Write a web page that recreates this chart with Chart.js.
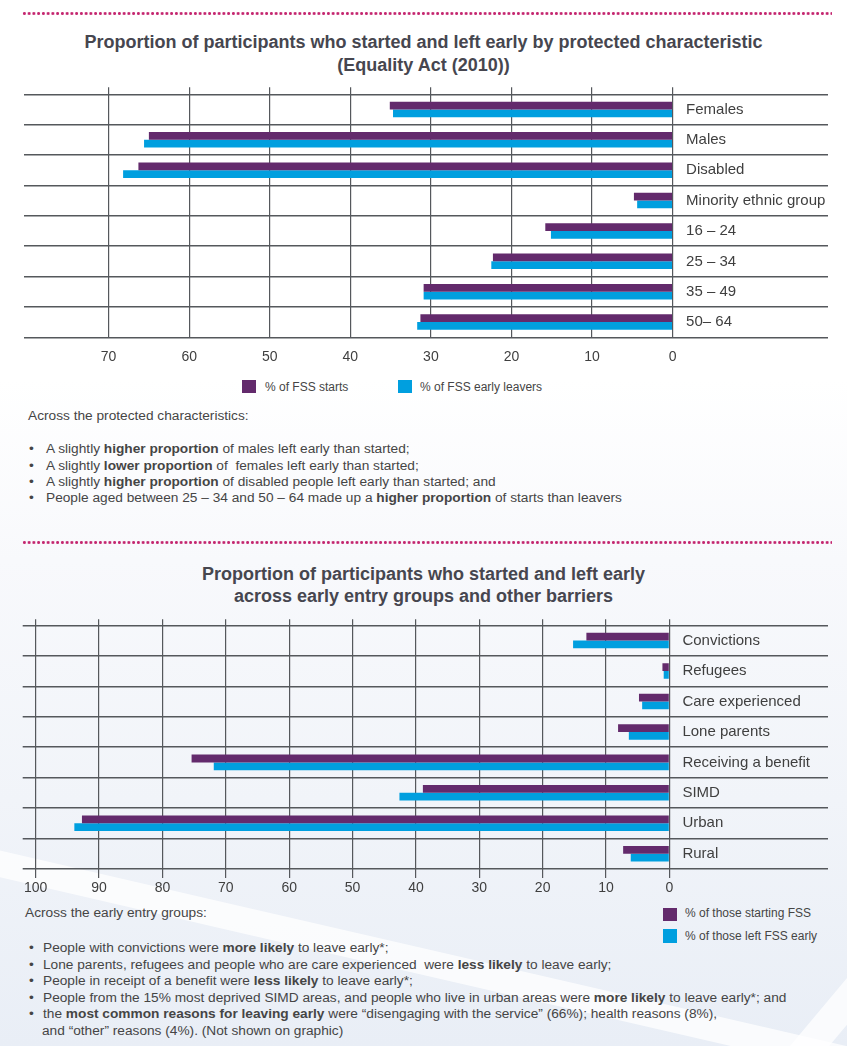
<!DOCTYPE html>
<html>
<head>
<meta charset="utf-8">
<script src="https://cdn.jsdelivr.net/npm/chart.js@4.4.1/dist/chart.umd.min.js"></script>
<style>
  html, body { margin: 0; padding: 0; }
  body {
    width: 847px; height: 1046px; position: relative; overflow: hidden;
    font-family: "Liberation Sans", Arial, sans-serif; color: #454545;
    background: linear-gradient(to bottom, #ffffff 0px, #ffffff 380px, #f8f9fc 560px, #f1f4f9 800px, #e9eef6 1046px);
  }
  .band { position: absolute; transform-origin: 0 0; background: rgba(255,255,255,0.75); }
  .dots { position: absolute; left: 22px; width: 810px; height: 5px;
    background-image: radial-gradient(circle at center, #c4266f 0, #c4266f 1.2px, transparent 1.7px);
    background-size: 4.75px 5px; background-repeat: repeat-x; }
  .title { position: absolute; left: 0; width: 847px; text-align: center; font-weight: bold;
    font-size: 18px; line-height: 22px; color: #46464f; }
  .chartbox { position: absolute; left: 0; width: 847px; }
  .txt { position: absolute; font-size: 13.7px; line-height: 16px; white-space: nowrap; color: #454545; }
  .leg { position: absolute; font-size: 12px; line-height: 14px; white-space: nowrap; color: #454545; }
  .sw { position: absolute; }
</style>
</head>
<body>
<div class="band" style="left:-20px; top:846px; width:1000px; height:26px; transform: rotate(13deg);"></div>
<div class="band" style="left:790px; top:1046px; width:200px; height:30px; transform: rotate(-50deg);"></div>

<div class="dots" style="top:11px;"></div>
<div class="title" style="top:31px;">Proportion of participants who started and left early by protected characteristic</div>
<div class="title" style="top:54px;">(Equality Act (2010))</div>
<div class="chartbox" style="top:80px; height:300px;"><canvas id="c1"></canvas></div>

<div class="sw" style="left:242px; top:380px; width:14px; height:13px; background:#632a6c;"></div>
<div class="leg" style="left:265px; top:380px;">% of FSS starts</div>
<div class="sw" style="left:398px; top:380px; width:14px; height:13px; background:#009fdf;"></div>
<div class="leg" style="left:420px; top:380px;">% of FSS early leavers</div>

<div class="txt" style="left:28px; top:408px;">Across the protected characteristics:</div>
<div class="txt" style="left:29px; top:441px;">•</div>
<div class="txt" style="left:46px; top:441px;">A slightly <b>higher proportion</b> of males left early than started;</div>
<div class="txt" style="left:29px; top:458px;">•</div>
<div class="txt" style="left:46px; top:458px;">A slightly <b>lower proportion</b> of&nbsp; females left early than started;</div>
<div class="txt" style="left:29px; top:474px;">•</div>
<div class="txt" style="left:46px; top:474px;">A slightly <b>higher proportion</b> of disabled people left early than started; and</div>
<div class="txt" style="left:29px; top:490px;">•</div>
<div class="txt" style="left:46px; top:490px;">People aged between 25 – 34 and 50 – 64 made up a <b>higher proportion</b> of starts than leavers</div>

<div class="dots" style="top:540px;"></div>
<div class="title" style="top:563px;">Proportion of participants who started and left early</div>
<div class="title" style="top:585px;">across early entry groups and other barriers</div>
<div class="chartbox" style="top:600px; height:300px;"><canvas id="c2"></canvas></div>

<div class="txt" style="left:25px; top:905px;">Across the early entry groups:</div>
<div class="sw" style="left:663px; top:908px; width:14px; height:13px; background:#632a6c;"></div>
<div class="leg" style="left:685px; top:906px;">% of those starting FSS</div>
<div class="sw" style="left:663px; top:929px; width:14px; height:14px; background:#009fdf;"></div>
<div class="leg" style="left:685px; top:929px;">% of those left FSS early</div>

<div class="txt" style="left:29px; top:940px;">•</div>
<div class="txt" style="left:43px; top:940px;">People with convictions were <b>more likely</b> to leave early*;</div>
<div class="txt" style="left:29px; top:957px;">•</div>
<div class="txt" style="left:43px; top:957px;">Lone parents, refugees and people who are care experienced&nbsp; were <b>less likely</b> to leave early;</div>
<div class="txt" style="left:29px; top:973px;">•</div>
<div class="txt" style="left:43px; top:973px;">People in receipt of a benefit were <b>less likely</b> to leave early*;</div>
<div class="txt" style="left:29px; top:990px;">•</div>
<div class="txt" style="left:43px; top:990px;">People from the 15% most deprived SIMD areas, and people who live in urban areas were <b>more likely</b> to leave early*; and</div>
<div class="txt" style="left:29px; top:1006px;">•</div>
<div class="txt" style="left:43px; top:1006px;">the <b>most common reasons for leaving early</b> were “disengaging with the service” (66%); health reasons (8%),</div>
<div class="txt" style="left:42px; top:1023px;">and “other” reasons (4%). (Not shown on graphic)</div>

<script>
// ---------- Data ----------
const protectedCategories = ['Females', 'Males', 'Disabled', 'Minority ethnic group', '16 – 24', '25 – 34', '35 – 49', '50– 64'];
const protectedStarts = [35.1, 65.0, 66.3, 4.8, 15.8, 22.3, 30.9, 31.3];
const protectedEarlyLeavers = [34.7, 65.6, 68.2, 4.4, 15.1, 22.5, 30.9, 31.7];
const protectedTicks = [0, 10, 20, 30, 40, 50, 60, 70];

const barrierCategories = ['Convictions', 'Refugees', 'Care experienced', 'Lone parents', 'Receiving a benefit', 'SIMD', 'Urban', 'Rural'];
const barrierStarting = [13.1, 1.1, 4.8, 8.1, 75.4, 38.9, 92.7, 7.3];
const barrierLeftEarly = [15.2, 0.9, 4.3, 6.4, 71.9, 42.6, 93.9, 6.1];
const barrierTicks = [0, 10, 20, 30, 40, 50, 60, 70, 80, 90, 100];

const seriesNames1 = ['% of FSS starts', '% of FSS early leavers'];
const seriesNames2 = ['% of those starting FSS', '% of those left FSS early'];

// ---------- Styling ----------
const PURPLE = '#632a6c';
const CYAN = '#009fdf';
const GRID = '#55585c';
const TEXT = '#3f3f3f';
const FONT = '"Liberation Sans", Arial, sans-serif';

function makeChart(id, cats, s1, s2, names, ticks, cfg) {
  const setTicks = s => { s.ticks = ticks.map(v => ({ value: v })); };
  return new Chart(document.getElementById(id), {
    type: 'bar',
    data: {
      labels: cats,
      datasets: [
        { label: names[0], data: s1, backgroundColor: PURPLE, borderWidth: 0 },
        { label: names[1], data: s2, backgroundColor: CYAN, borderWidth: 0 }
      ]
    },
    options: {
      indexAxis: 'y',
      responsive: true,
      maintainAspectRatio: false,
      animation: false,
      events: [],
      layout: { padding: cfg.padding },
      plugins: { legend: { display: false }, tooltip: { enabled: false }, title: { display: false } },
      datasets: { bar: { categoryPercentage: 0.51, barPercentage: 1.0 } },
      scales: {
        x: {
          type: 'linear', position: 'bottom', reverse: true, min: 0, max: cfg.max,
          afterBuildTicks: setTicks,
          grid: { color: GRID, lineWidth: 1.2, drawTicks: cfg.bottomTicks > 0, tickLength: cfg.bottomTicks },
          border: { display: false },
          ticks: { font: { family: FONT, size: 14 }, color: TEXT, padding: cfg.tickPad, maxRotation: 0, autoSkip: false },
          afterFit: s => { s.height = cfg.xHeight; }
        },
        x2: {
          type: 'linear', position: 'top', reverse: true, min: 0, max: cfg.max,
          afterBuildTicks: setTicks,
          grid: { color: GRID, lineWidth: 1.2, drawOnChartArea: false, drawTicks: true, tickLength: cfg.topTicks },
          border: { display: false },
          ticks: { display: false }
        },
        y: {
          type: 'category', position: 'right', offset: true,
          grid: { color: GRID, lineWidth: 1.4, offset: true, drawTicks: true, tickLength: cfg.yWidth },
          border: { display: false },
          ticks: { font: { family: FONT, size: 15 }, color: TEXT, padding: cfg.labelGap - cfg.yWidth, autoSkip: false },
          afterFit: s => { s.width = cfg.yWidth; }
        }
      }
    }
  });
}

makeChart('c1', protectedCategories, protectedStarts, protectedEarlyLeavers, seriesNames1, protectedTicks, {
  padding: { left: 24, right: 19, top: 7.3, bottom: 8.7 },
  max: 80.5, xHeight: 34, bottomTicks: 0, topTicks: 7, tickPad: 11, yWidth: 155.4, labelGap: 13.5
});

makeChart('c2', barrierCategories, barrierStarting, barrierLeftEarly, seriesNames2, barrierTicks, {
  padding: { left: 22.7, right: 19, top: 19.3, bottom: 3 },
  max: 102.05, xHeight: 28, bottomTicks: 9, topTicks: 6, tickPad: 2, yWidth: 158.6, labelGap: 13
});
</script>
</body>
</html>
